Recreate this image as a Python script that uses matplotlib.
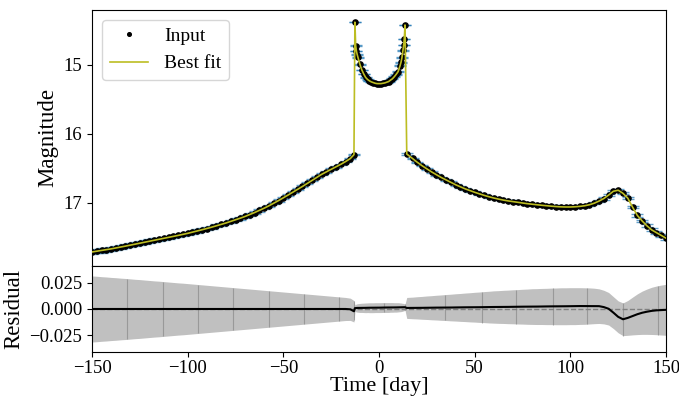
import numpy as np
import matplotlib
matplotlib.use("Agg")
from matplotlib import pyplot as plt

plt.rcParams['font.family'] = 'serif'
plt.rcParams['font.serif'] = ['Liberation Serif', 'DejaVu Serif']

# observing times [day]
t_left = np.arange(-150, -14, 2.5).tolist() + [-13.1]
t_caustic = [-12.6, -12.2, -11.8, -11.4, -11.0, -10.0, -9.0, -8.0, -7.0, -6.0, -5.0,
             -4.0, -3.0, -2.0, -1.0, 0.0, 1.0, 2.0, 3.0, 4.0, 5.0, 6.0, 7.0, 8.0,
             9.0, 10.0, 11.0, 11.5, 12.0, 12.5, 12.9, 13.2, 13.6]
t_right = [14.5] + np.arange(17.5, 150.1, 2.5).tolist()

# magnitudes
mag_left = [17.710, 17.699, 17.688, 17.677, 17.665, 17.652, 17.639, 17.625, 17.611, 17.597,
            17.583, 17.569, 17.555, 17.541, 17.528, 17.514, 17.500, 17.485, 17.470, 17.455,
            17.440, 17.423, 17.406, 17.388, 17.370, 17.351, 17.331, 17.311, 17.290, 17.267,
            17.244, 17.220, 17.195, 17.167, 17.138, 17.107, 17.075, 17.040, 17.003, 16.965,
            16.925, 16.884, 16.843, 16.802, 16.760, 16.717, 16.673, 16.629, 16.585, 16.548,
            16.512, 16.476, 16.440, 16.400, 16.356, 16.300]
mag_caustic = [14.38, 14.72, 14.80, 14.85, 14.89, 14.99, 15.07, 15.13, 15.18, 15.21, 15.23,
               15.245, 15.255, 15.265, 15.27, 15.27, 15.27, 15.265, 15.26, 15.25, 15.24, 15.22,
               15.20, 15.17, 15.135, 15.095, 15.01, 14.96, 14.89, 14.79, 14.71, 14.62, 14.42]
mag_right = [16.290, 16.355, 16.410, 16.460, 16.505, 16.550, 16.590, 16.630, 16.665, 16.700,
             16.735, 16.765, 16.795, 16.820, 16.845, 16.868, 16.890, 16.910, 16.928, 16.944,
             16.958, 16.970, 16.980, 16.990, 17.000, 17.010, 17.018, 17.026, 17.033, 17.040,
             17.046, 17.052, 17.056, 17.058, 17.058, 17.055, 17.049, 17.040, 17.025, 17.003,
             16.972, 16.935, 16.885, 16.830, 16.815, 16.860, 16.930, 17.060, 17.180, 17.260,
             17.330, 17.390, 17.430, 17.470, 17.510]

# photometric errors
err_left = [.0315, .0312, .0308, .0305, .0301, .0298, .0294, .0291, .0287, .0283,
            .0280, .0276, .0272, .0268, .0265, .0261, .0257, .0253, .0249, .0246,
            .0242, .0238, .0234, .0230, .0226, .0222, .0218, .0214, .0210, .0206,
            .0202, .0198, .0194, .0190, .0186, .0182, .0178, .0174, .0170, .0166,
            .0162, .0158, .0154, .0150, .0146, .0142, .0138, .0134, .0130, .0126,
            .0122, .0118, .0114, .0110, .0106, .0102]
err_caustic = [.0030, .0035, .0038, .0040, .0041, .0043, .0044, .0045, .0046, .0046, .0047,
               .0047, .0047, .0047, .0047, .0047, .0047, .0047, .0047, .0047, .0047, .0046,
               .0046, .0045, .0045, .0044, .0042, .0041, .0039, .0037, .0035, .0033, .0030]
err_right = [.0100, .0103, .0106, .0109, .0112, .0115, .0118, .0121, .0124, .0127,
             .0130, .0133, .0136, .0139, .0142, .0145, .0148, .0151, .0154, .0156,
             .0158, .0160, .0162, .0164, .0166, .0168, .0170, .0171, .0172, .0173,
             .0174, .0175, .0176, .0176, .0176, .0176, .0175, .0174, .0172, .0169,
             .0165, .0160, .0155, .0152, .0152, .0156, .0166, .0180, .0194, .0206,
             .0216, .0225, .0232, .0238, .0243]

# residuals (input - best fit)
res_left = [0.0] * 54 + [-0.0003, -0.0022]
res_caustic = [.0008, .0009, .0009, .0010, .0010, .0010, .0011, .0011, .0011, .0012, .0012,
               .0012, .0012, .0013, .0013, .0013, .0013, .0014, .0014, .0014, .0014, .0015,
               .0015, .0015, .0015, .0016, .0016, .0016, .0016, .0017, .0017, .0017, .0017]
res_right = [.0010, .0010, .0011, .0011, .0012, .0012, .0013, .0013, .0014, .0014,
             .0015, .0015, .0016, .0016, .0017, .0017, .0018, .0018, .0019, .0019,
             .0020, .0020, .0021, .0021, .0022, .0022, .0023, .0023, .0024, .0024,
             .0025, .0025, .0026, .0026, .0027, .0027, .0028, .0028, .0029, .0029,
             .0027, .0018, .0002, -.0035, -.0075, -.0098, -.0085, -.0067, -.0050, -.0036,
             -.0026, -.0018, -.0013, -.0010, -.0008]

# seams between residual band chunks
seams = [-131.5, -113.0, -94.6, -76.2, -57.7, -39.2, -20.8, -13.0, 2.6, 13.6,
         34.7, 53.9, 71.7, 90.8, 108.5, 127.6, 145.8]

t = np.array(t_left + t_caustic + t_right)
mag = np.array(mag_left + mag_caustic + mag_right)
err = np.array(err_left + err_caustic + err_right)
res = np.array(res_left + res_caustic + res_right)

fig = plt.figure(figsize=(6.79, 3.98), dpi=100)
ax1 = fig.add_axes([0.1355, 0.3317, 0.8454, 0.6432])
ax2 = fig.add_axes([0.1355, 0.1156, 0.8454, 0.2161], sharex=ax1)

ax1.errorbar(t, mag, yerr=err, fmt='none', ecolor='C0', elinewidth=1, capsize=4,
             alpha=0.7, zorder=1)
ax1.plot(t, mag, 'k.', ms=7.5, label='Input', zorder=2)
ax1.plot(t, mag, color='tab:olive', lw=1.2, label='Best fit', zorder=3)
ax1.set_ylim(17.913, 14.203)
ax1.set_xlim(-150, 150)
ax1.set_yticks([15, 16, 17])
ax1.set_ylabel('Magnitude', fontsize=16.5)
ax1.tick_params(axis='x', bottom=False, labelbottom=False)
ax1.tick_params(axis='y', labelsize=13.5)
ax1.legend(loc='upper left', fontsize=14, markerscale=0.7)

lo = res - err
hi = res + err
ax2.fill_between(t, lo, hi, color='silver', lw=0, zorder=1)
ax2.vlines(seams, np.interp(seams, t, lo), np.interp(seams, t, hi),
           color='grey', lw=0.8, alpha=0.6, zorder=2)
ax2.axhline(0, color='grey', ls='--', lw=1, zorder=3)
ax2.plot(t, res, color='k', lw=1.5, zorder=4)
ax2.set_ylim(-0.041, 0.041)
ax2.set_yticks([-0.025, 0.0, 0.025])
ax2.set_xticks([-150, -100, -50, 0, 50, 100, 150])
ax2.set_xlabel('Time [day]', fontsize=16, labelpad=0)
ax2.set_ylabel('Residual', fontsize=16.5)
ax2.tick_params(labelsize=13.5)
ax2.tick_params(axis='x', pad=2)

fig.savefig('out.png', dpi=100)
